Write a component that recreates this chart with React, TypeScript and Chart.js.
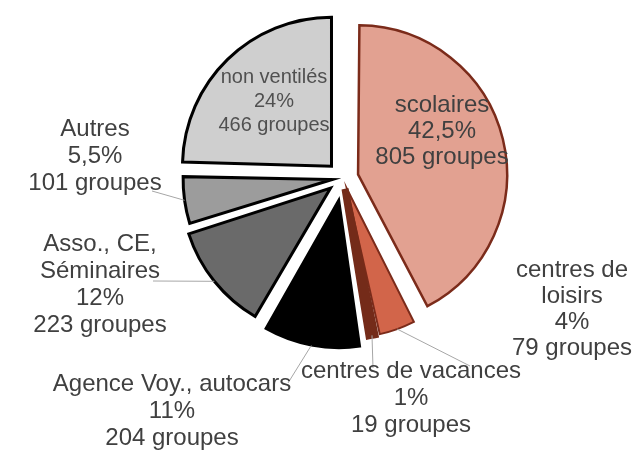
import React, { useEffect, useRef } from 'react';
import { Chart, registerables } from 'chart.js';

Chart.register(...registerables);

// ---- data ----
const CATEGORIES = [
  'scolaires',
  'centres de loisirs',
  'centres de vacances',
  'Agence Voy., autocars',
  'Asso., CE, Séminaires',
  'Autres',
  'non ventilés',
];
const GROUPS = [805, 79, 19, 204, 223, 101, 466];
const PERCENT_LABELS = ['42,5%', '4%', '1%', '11%', '12%', '5,5%', '24%'];
const NAME_LINES = [
  ['scolaires'],
  ['centres de', 'loisirs'],
  ['centres de vacances'],
  ['Agence Voy., autocars'],
  ['Asso., CE,', 'Séminaires'],
  ['Autres'],
  ['non ventilés'],
];

// ---- styles ----
const COLORS = ['#E2A191', '#D2654A', '#742B19', '#000000', '#6A6A6A', '#9C9C9C', '#CFCFCF'];
const BORDER_COLORS = ['#7B2B1A', '#7B2B1A', '#742B19', '#000000', '#000000', '#000000', '#000000'];
const BORDER_WIDTHS = [2.5, 2, 7, 2, 3, 3, 3];
const EXPLODE_PX = [15.5, 11.5, 11, 21.5, 16, 11, 16.5];
const RADIUS = 149;

// label layout relative to pie centre
const LABEL_LAYOUT = [
  { dx: 99, dy: -73, lh: 26, size: 24, color: '#404040', leader: null },
  { dx: 229, dy: 92, lh: 26, size: 24, color: '#404040', leader: [127, 188] },
  { dx: 68, dy: 193, lh: 27, size: 24, color: '#404040', leader: [30, 190] },
  { dx: -171, dy: 206, lh: 27, size: 24, color: '#404040', leader: [-55, 205] },
  { dx: -243, dy: 66, lh: 27, size: 24, color: '#404040', leader: [-190, 103] },
  { dx: -248, dy: -49, lh: 27, size: 24, color: '#404040', leader: [-191, 13] },
  { dx: -69, dy: -101, lh: 24, size: 20, color: '#505050', leader: null },
];

const radiusFixPlugin = {
  id: 'radiusFix',
  beforeDatasetsDraw(chart: any) {
    const meta = chart.getDatasetMeta(0);
    meta.data.forEach((el: any, i: number) => {
      const off = EXPLODE_PX[i];
      const fix = 1 - Math.sin(Math.min(Math.PI, el.circumference || 0));
      el.outerRadius = RADIUS - off * fix;
    });
  },
};

const labelPlugin = {
  id: 'pieLabels',
  afterDatasetsDraw(chart: any) {
    const ctx = chart.ctx;
    const meta = chart.getDatasetMeta(0);
    ctx.save();
    meta.data.forEach((el: any, i: number) => {
      const lay = LABEL_LAYOUT[i];
      const cx = el.x;
      const cy = el.y;
      if (lay.leader) {
        const mid = (el.startAngle + el.endAngle) / 2;
        const r = EXPLODE_PX[i] + RADIUS;
        const sx = cx + Math.cos(mid) * r;
        const sy = cy + Math.sin(mid) * r;
        ctx.beginPath();
        ctx.strokeStyle = '#A6A6A6';
        ctx.lineWidth = 1;
        ctx.moveTo(sx, sy);
        ctx.lineTo(cx + lay.leader[0], cy + lay.leader[1]);
        ctx.stroke();
      }
    });
    meta.data.forEach((el: any, i: number) => {
      const lay = LABEL_LAYOUT[i];
      const lines = [...NAME_LINES[i], PERCENT_LABELS[i], `${GROUPS[i]} groupes`];
      ctx.font = `${lay.size}px "Liberation Sans", Arial, sans-serif`;
      ctx.fillStyle = lay.color;
      ctx.textAlign = 'center';
      ctx.textBaseline = 'middle';
      lines.forEach((t, k) => {
        ctx.fillText(t, el.x + lay.dx, el.y + lay.dy + k * lay.lh);
      });
    });
    ctx.restore();
  },
};

export default function App() {
  const ref = useRef<HTMLCanvasElement | null>(null);
  useEffect(() => {
    if (!ref.current) return;
    const chart = new Chart(ref.current, {
      type: 'pie',
      data: {
        labels: CATEGORIES,
        datasets: [
          {
            data: GROUPS,
            backgroundColor: COLORS,
            borderColor: BORDER_COLORS,
            borderWidth: BORDER_WIDTHS,
            borderJoinStyle: 'miter',
            offset: EXPLODE_PX.map((p) => p * 4),
            hoverOffset: 0,
            radius: RADIUS,
          } as any,
        ],
      },
      options: {
        responsive: false,
        animation: false,
        events: [],
        layout: { padding: { left: 51, right: 0, top: 0, bottom: 95 } },
        plugins: {
          legend: { display: false },
          tooltip: { enabled: false },
        },
      },
      plugins: [radiusFixPlugin, labelPlugin],
    });
    return () => chart.destroy();
  }, []);
  return (
    <div style={{ position: 'absolute', left: 0, top: 0, width: 635, height: 451, background: '#fff' }}>
      <canvas ref={ref} width={635} height={451} style={{ display: 'block' }} />
    </div>
  );
}
